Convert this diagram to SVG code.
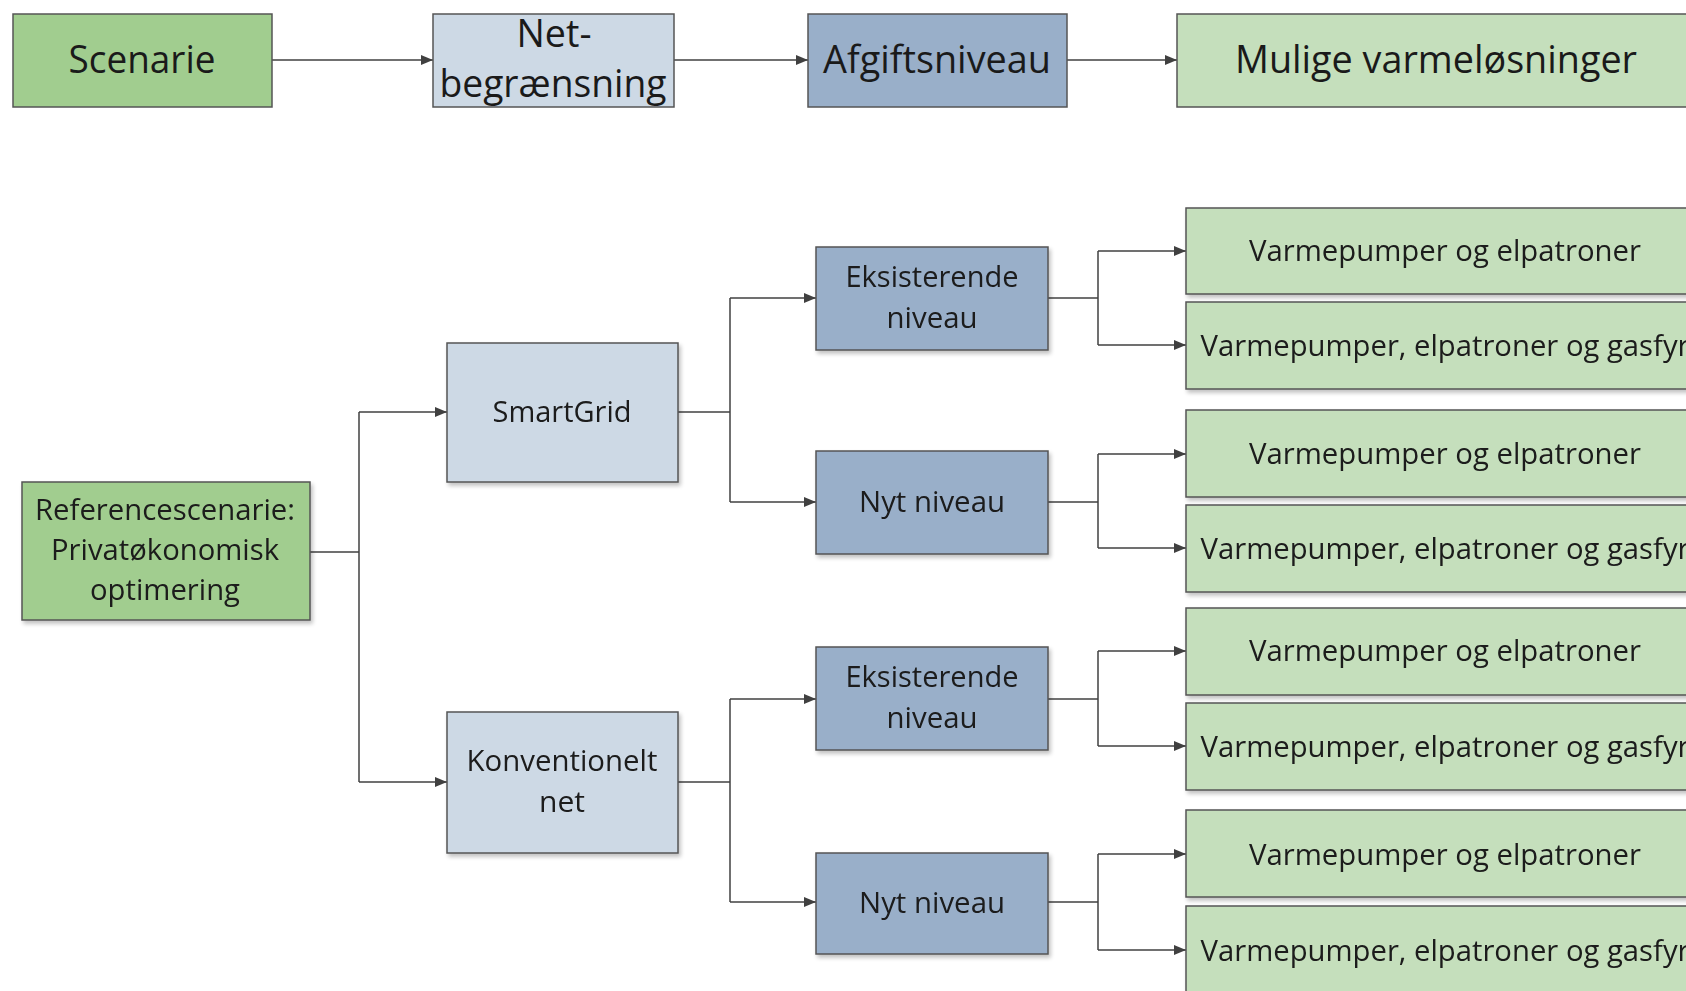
<svg xmlns="http://www.w3.org/2000/svg" width="1686" height="991" viewBox="0 0 1686 991">
<defs>
<marker id="ah" viewBox="0 0 12 10" refX="12" refY="5" markerWidth="12" markerHeight="10" markerUnits="userSpaceOnUse" orient="auto">
<path d="M0,0 L12,5 L0,10 z" fill="#404040"/>
</marker>
<filter id="sh" x="-5%" y="-5%" width="115%" height="120%">
<feGaussianBlur in="SourceAlpha" stdDeviation="2"/>
<feOffset dx="2" dy="3" result="b"/>
<feComponentTransfer><feFuncA type="linear" slope="0.25"/></feComponentTransfer>
<feMerge><feMergeNode/><feMergeNode in="SourceGraphic"/></feMerge>
</filter>
</defs>
<style>
.b{stroke:#555;stroke-width:1.5}
.g{fill:#a1cd8f}
.lg{fill:#c5dfbc}
.lb{fill:#cdd9e5}
.db{fill:#99afc9}
text{font-family:"Open Sans","Liberation Sans",sans-serif;fill:#1a1a1a;text-anchor:middle}
.t{font-size:38px}
.s{font-size:29px}
.c{fill:none;stroke:#404040;stroke-width:1.5}
</style>
<rect width="1686" height="991" fill="#fff"/>
<g id="connectors">
<path class="c" d="M272,60 H433" marker-end="url(#ah)"/>
<path class="c" d="M674,60 H808" marker-end="url(#ah)"/>
<path class="c" d="M1067,60 H1177" marker-end="url(#ah)"/>
<path class="c" d="M310,552 H359"/>
<path class="c" d="M359,412 V782"/>
<path class="c" d="M359,412 H447" marker-end="url(#ah)"/>
<path class="c" d="M359,782 H447" marker-end="url(#ah)"/>
<path class="c" d="M678,412 H730"/>
<path class="c" d="M730,298 V502"/>
<path class="c" d="M730,298 H816" marker-end="url(#ah)"/>
<path class="c" d="M730,502 H816" marker-end="url(#ah)"/>
<path class="c" d="M678,782 H730"/>
<path class="c" d="M730,699 V902"/>
<path class="c" d="M730,699 H816" marker-end="url(#ah)"/>
<path class="c" d="M730,902 H816" marker-end="url(#ah)"/>
<path class="c" d="M1048,298 H1098"/>
<path class="c" d="M1098,251 V345"/>
<path class="c" d="M1098,251 H1186" marker-end="url(#ah)"/>
<path class="c" d="M1098,345 H1186" marker-end="url(#ah)"/>
<path class="c" d="M1048,502 H1098"/>
<path class="c" d="M1098,454 V548"/>
<path class="c" d="M1098,454 H1186" marker-end="url(#ah)"/>
<path class="c" d="M1098,548 H1186" marker-end="url(#ah)"/>
<path class="c" d="M1048,699 H1098"/>
<path class="c" d="M1098,651 V746"/>
<path class="c" d="M1098,651 H1186" marker-end="url(#ah)"/>
<path class="c" d="M1098,746 H1186" marker-end="url(#ah)"/>
<path class="c" d="M1048,902 H1098"/>
<path class="c" d="M1098,854 V950"/>
<path class="c" d="M1098,854 H1186" marker-end="url(#ah)"/>
<path class="c" d="M1098,950 H1186" marker-end="url(#ah)"/>
</g>
<g id="h-scenarie"><rect class="b g" x="13" y="14" width="259" height="93"/><text class="t" x="142" y="73" textLength="147" lengthAdjust="spacingAndGlyphs">Scenarie</text></g>
<g id="h-net"><rect class="b lb" x="433" y="14" width="241" height="93"/><text class="t" x="554" y="47" textLength="75" lengthAdjust="spacingAndGlyphs">Net-</text><text class="t" x="553" y="97" textLength="227" lengthAdjust="spacingAndGlyphs">begrænsning</text></g>
<g id="h-afgift"><rect class="b db" x="808" y="14" width="259" height="93"/><text class="t" x="937" y="73" textLength="228" lengthAdjust="spacingAndGlyphs">Afgiftsniveau</text></g>
<g id="h-mulige"><rect class="b lg" x="1177" y="14" width="530" height="93"/><text class="t" x="1436" y="73" textLength="402" lengthAdjust="spacingAndGlyphs">Mulige varmeløsninger</text></g>

<g id="ref" filter="url(#sh)"><rect class="b g" x="22" y="482" width="288" height="138"/>
<text class="s" x="165" y="520" textLength="260" lengthAdjust="spacingAndGlyphs">Referencescenarie:</text>
<text class="s" x="165" y="560" textLength="228" lengthAdjust="spacingAndGlyphs">Privatøkonomisk</text>
<text class="s" x="165" y="600" textLength="150" lengthAdjust="spacingAndGlyphs">optimering</text></g>
<g id="smartgrid" filter="url(#sh)"><rect class="b lb" x="447" y="343" width="231" height="139"/><text class="s" x="562" y="422" textLength="139" lengthAdjust="spacingAndGlyphs">SmartGrid</text></g>
<g id="konv" filter="url(#sh)"><rect class="b lb" x="447" y="712" width="231" height="141"/><text class="s" x="562" y="771" textLength="191" lengthAdjust="spacingAndGlyphs">Konventionelt</text><text class="s" x="562" y="812" textLength="46" lengthAdjust="spacingAndGlyphs">net</text></g>

<g id="eks1" filter="url(#sh)"><rect class="b db" x="816" y="247" width="232" height="103"/><text class="s" x="932" y="287" textLength="173" lengthAdjust="spacingAndGlyphs">Eksisterende</text><text class="s" x="932" y="328" textLength="91" lengthAdjust="spacingAndGlyphs">niveau</text></g>
<g id="nyt1" filter="url(#sh)"><rect class="b db" x="816" y="451" width="232" height="103"/><text class="s" x="932" y="512" textLength="146" lengthAdjust="spacingAndGlyphs">Nyt niveau</text></g>
<g id="eks2" filter="url(#sh)"><rect class="b db" x="816" y="647" width="232" height="103"/><text class="s" x="932" y="687" textLength="173" lengthAdjust="spacingAndGlyphs">Eksisterende</text><text class="s" x="932" y="728" textLength="91" lengthAdjust="spacingAndGlyphs">niveau</text></g>
<g id="nyt2" filter="url(#sh)"><rect class="b db" x="816" y="853" width="232" height="101"/><text class="s" x="932" y="913" textLength="146" lengthAdjust="spacingAndGlyphs">Nyt niveau</text></g>

<g id="v1" filter="url(#sh)"><rect class="b lg" x="1186" y="208" width="520" height="86"/><text class="s" x="1445" y="261" textLength="392" lengthAdjust="spacingAndGlyphs">Varmepumper og elpatroner</text></g>
<g id="v2" filter="url(#sh)"><rect class="b lg" x="1186" y="302" width="520" height="87"/><text class="s" x="1445" y="356" textLength="489" lengthAdjust="spacingAndGlyphs">Varmepumper, elpatroner og gasfyr</text></g>
<g id="v3" filter="url(#sh)"><rect class="b lg" x="1186" y="410" width="520" height="87"/><text class="s" x="1445" y="464" textLength="392" lengthAdjust="spacingAndGlyphs">Varmepumper og elpatroner</text></g>
<g id="v4" filter="url(#sh)"><rect class="b lg" x="1186" y="505" width="520" height="87"/><text class="s" x="1445" y="559" textLength="489" lengthAdjust="spacingAndGlyphs">Varmepumper, elpatroner og gasfyr</text></g>
<g id="v5" filter="url(#sh)"><rect class="b lg" x="1186" y="608" width="520" height="87"/><text class="s" x="1445" y="661" textLength="392" lengthAdjust="spacingAndGlyphs">Varmepumper og elpatroner</text></g>
<g id="v6" filter="url(#sh)"><rect class="b lg" x="1186" y="703" width="520" height="87"/><text class="s" x="1445" y="757" textLength="489" lengthAdjust="spacingAndGlyphs">Varmepumper, elpatroner og gasfyr</text></g>
<g id="v7" filter="url(#sh)"><rect class="b lg" x="1186" y="810" width="520" height="87"/><text class="s" x="1445" y="865" textLength="392" lengthAdjust="spacingAndGlyphs">Varmepumper og elpatroner</text></g>
<g id="v8" filter="url(#sh)"><rect class="b lg" x="1186" y="906" width="520" height="100"/><text class="s" x="1445" y="961" textLength="489" lengthAdjust="spacingAndGlyphs">Varmepumper, elpatroner og gasfyr</text></g>
</svg>
